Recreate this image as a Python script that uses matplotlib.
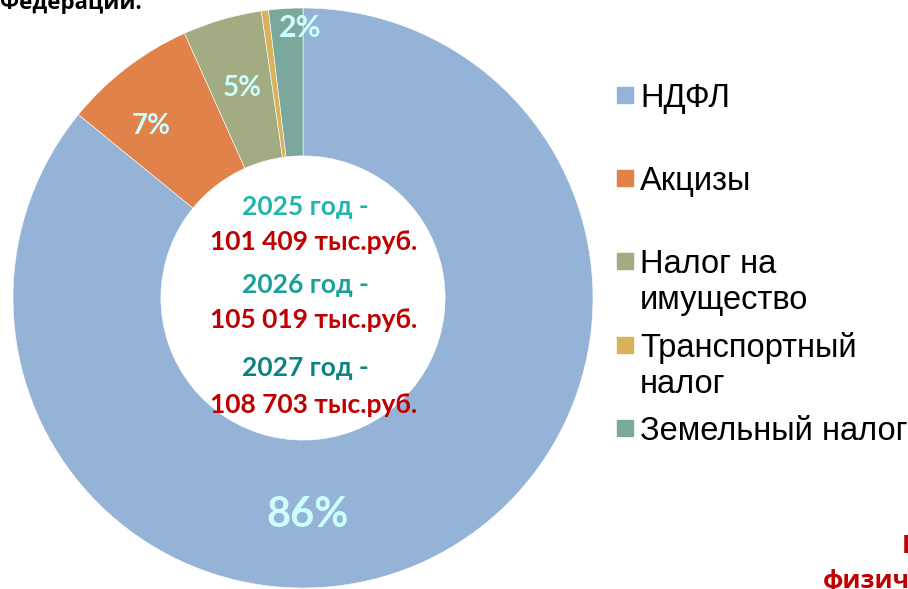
import numpy as np
import matplotlib
matplotlib.use('Agg')
import matplotlib.pyplot as plt
from matplotlib.patches import Rectangle

# данные
categories = ['НДФЛ', 'Акцизы', 'Налог на\nимущество', 'Транспортный\nналог', 'Земельный налог']
shares = [85.9, 7.4, 4.4, 0.4, 1.9]
pct_labels = ['86%', '7%', '5%', '', '2%']
colors = ['#95B3D7', '#E0824A', '#A3AB82', '#D9B25C', '#7AA89C']

years = ['2025 год -', '2026 год -', '2027 год -']
totals = ['101 409 тыс.руб.', '105 019 тыс.руб.', '108 703 тыс.руб.']
year_colors = ['#22B5AC', '#18A099', '#0B8480']

W, H = 908, 589
fig = plt.figure(figsize=(W / 100, H / 100), dpi=100)

# ось под бублик: центр (303, 298), радиус 290 px
cx, cy, R = 303, 298, 290
ax = fig.add_axes([(cx - R) / W, (H - cy - R) / H, 2 * R / W, 2 * R / H])

wedges, _ = ax.pie(shares, colors=colors, startangle=90, counterclock=False,
                   radius=1, wedgeprops=dict(width=0.51, edgecolor='white', linewidth=0.4))
ax.set_xlim(-1, 1)
ax.set_ylim(-1, 1)
ax.set_aspect('equal')
ax.axis('off')

# подписи процентов: сдвиг угла, радиус, размер шрифта
lab_shift = [-90, 4, 0, 0, -2.8]
lab_r = [0.75, 0.79, 0.755, 0.75, 0.93]
lab_size = [30, 20, 20, 20, 22]
for w, lab, da, r, size in zip(wedges, pct_labels, lab_shift, lab_r, lab_size):
    if not lab:
        continue
    mid = (w.theta1 + w.theta2) / 2
    if lab == '86%':
        mid = -88.7
        da = 0
    ang = np.deg2rad(mid + da)
    ax.text(r * np.cos(ang), r * np.sin(ang), lab, ha='center', va='center',
            color='#CCFFFF', fontsize=size, fontweight='bold', family='Lato')

# текст в центре
ys = [207, 242, 285, 320, 368, 405]
for i in range(3):
    fig.text(305 / W, 1 - ys[2 * i] / H, years[i], ha='center', va='center',
             color=year_colors[i], fontsize=19, fontweight='bold', family='Lato')
    fig.text(314 / W, 1 - ys[2 * i + 1] / H, totals[i], ha='center', va='center',
             color='#C00000', fontsize=19, fontweight='bold', family='Lato')

# легенда вручную (базовые линии первых строк)
leg_base = [107, 190, 273, 357, 440]
for lab, col, y in zip(categories, colors, leg_base):
    fig.patches.append(Rectangle((617 / W, 1 - (y - 4) / H), 16 / W, 16 / H,
                                 transform=fig.transFigure, color=col))
    for k, line in enumerate(lab.split('\n')):
        fig.text(640 / W, 1 - (y + 36 * k) / H, line, ha='left', va='baseline',
                 fontsize=23.5, family='Liberation Sans')

# обрезанные надписи по краям
fig.text(0.0, 1 - 9 / H, 'Федерации.', ha='left', va='baseline', fontsize=16,
         fontweight='bold', family='Open Sans')
fig.text(823 / W, 1 - 588 / H, 'физических', ha='left', va='baseline', fontsize=18,
         fontweight='bold', family='Open Sans', color='#C00000')
fig.text(902 / W, 1 - 553 / H, 'Налог', ha='left', va='baseline', fontsize=18,
         fontweight='bold', family='Open Sans', color='#C00000')

fig.savefig('out.png', dpi=100)
